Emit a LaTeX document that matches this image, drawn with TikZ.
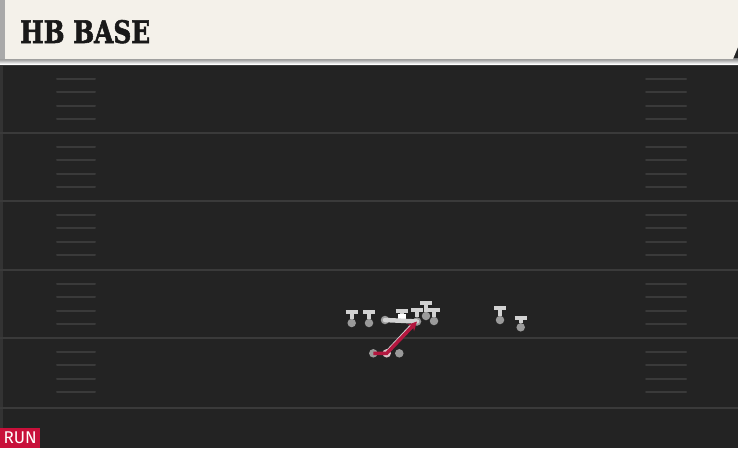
\documentclass[tikz,border=0pt]{standalone}
\usepackage{fontspec}
\usetikzlibrary{arrows.meta}
\newfontfamily\titlefont[FakeBold=2]{DejaVu Serif}
\newfontfamily\tagfont{Fira Sans}
\definecolor{turf}{HTML}{232323}
\definecolor{yardline}{HTML}{3A3A3A}
\definecolor{cream}{HTML}{F4F1EA}
\definecolor{edgegray}{HTML}{A9A9A9}
\definecolor{shade}{HTML}{161616}
\definecolor{blockgray}{HTML}{D2D2D2}
\definecolor{dotgray}{HTML}{9A9A9A}
\definecolor{runred}{HTML}{C8103A}
\definecolor{routered}{HTML}{B3173F}
\begin{document}
\begin{tikzpicture}[x=1pt,y=-1pt,
    plr/.style={circle,fill=dotgray,inner sep=0pt,minimum size=8.5pt},
    blk/.style={draw=blockgray,line width=3.8pt,-{Bar[width=12pt,line width=4pt]}},
    hash/.style={yardline,line width=2pt,line cap=round}]
        % Field
        \fill[turf] (0,0) rectangle (738,448);
        \useasboundingbox (0,0) rectangle (738,448);
        \fill[yardline!70!turf] (0,60) rectangle (3,448);

        % Yard lines and hash marks
        \foreach \yl in {65,133,201,270,338,408}
            \draw[yardline,line width=2pt] (0,\yl) -- (738,\yl);
        \foreach \yl in {65,133,201,270,338}
            \foreach \k in {1,2,3,4} {
                \draw[hash] (57,\yl+13.6*\k) -- (95,\yl+13.6*\k);
                \draw[hash] (646,\yl+13.6*\k) -- (686,\yl+13.6*\k);
            }

        % Header
        \fill[shade] (0,58) rectangle (738,64);
        \fill[cream] (0,0) -- (738,0) -- (738,47) -- (733,59) -- (0,59) -- cycle;
        \fill[edgegray] (0,0) rectangle (5,59);
        \node[anchor=base west,inner sep=0pt,text=black!90] (title) at (20,43)
            {\titlefont\bfseries\fontsize{31}{31}\selectfont\scalebox{0.80}[1]{HB BASE}};

        % Play tag
        \node[fill=runred,text=white,anchor=north west,minimum width=40pt,minimum height=20pt,inner sep=0pt] (tag) at (0,428)
            {\tagfont\fontsize{17}{17}\selectfont RUN};

        % Line and receivers
        \node[plr] (lt) at (351.7,323) {};
        \node[plr] (ltt) at (369,323) {};
        \node[plr] (lg) at (385,320) {};
        \node[fill=white,inner sep=0pt,minimum size=8pt] (ctr) at (401.7,317.7) {};
        \node[plr] (rg) at (417,321.5) {};
        \node[plr] (rgb) at (426,316) {};
        \node[plr] (rt) at (434,321) {};
        \node[plr] (te) at (500,320) {};
        \node[plr] (wr) at (520.7,327.3) {};

        \coordinate (lt-b) at (351.7,309.5);
        \coordinate (ltt-b) at (369,309.5);
        \coordinate (ctr-b) at (401.7,308.5);
        \coordinate (rg-b) at (417,307.5);
        \coordinate (rgb-b) at (426,301);
        \coordinate (rt-b) at (434,307.5);
        \coordinate (te-b) at (500,306);
        \coordinate (wr-b) at (520.7,315.7);

        \draw[blk] (lt.north) -- (lt-b);
        \draw[blk] (ltt.north) -- (ltt-b);
        \draw[blk] (ctr.north) -- (ctr-b);
        \draw[blk] (rg.north) -- (rg-b);
        \draw[blk] (rgb.north) -- (rgb-b);
        \draw[blk] (rt.north) -- (rt-b);
        \draw[blk] (te.north) -- (te-b);
        \draw[blk] (wr.north) -- (wr-b);
        \draw[blockgray,line width=4.5pt,line cap=round] (lg.center) -- (rg.center);

        % Backfield
        \node[plr] (qb) at (373.3,353.3) {};
        \node[plr,fill=dotgray!60!routered!40] (hb) at (386.7,353.3) {};
        \node[plr] (fb) at (399.3,353.3) {};

        % Ball carrier path
        \draw[blockgray,line width=2pt] ([xshift=-2pt]hb.center) -- ([xshift=-2.5pt]rg.center);
        \draw[routered,line width=3.5pt,-{Stealth[length=9pt,width=9pt]}]
            (qb.center) -- (hb.center) -- (rg.center);
    \end{tikzpicture}
\end{document}
